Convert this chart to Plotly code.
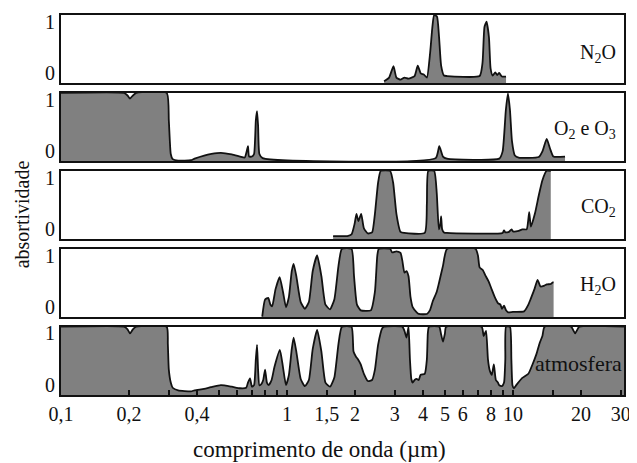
import math
import plotly.graph_objects as go
from plotly.subplots import make_subplots

# ---------------- data (wavelength in micrometres, absorptivity) ----------------
n2o_wl = [2.69, 2.83, 2.96, 3.05, 3.18, 3.31, 3.45, 3.67, 3.79, 3.91, 4.03, 4.16,
          4.30, 4.40, 4.48, 4.61, 4.71, 4.81, 4.95, 5.11, 7.12, 7.33, 7.48, 7.64,
          7.83, 7.96, 8.13, 8.35, 8.52, 8.69, 8.94, 9.32]
n2o_abs = [-0.15, -0.08, 0.14, -0.08, -0.12, -0.08, -0.10, -0.05, 0.15, 0.0, -0.02, -0.08,
           0.40, 0.90, 1.13, 1.10, 0.70, 0.15, -0.04, -0.05, -0.05, 0.20, 0.90, 1.0,
           0.70, 0.10, -0.04, 0.02, -0.03, 0.01, -0.06, -0.06]

o2o3_wl = [0.10, 0.19, 0.197, 0.202, 0.208, 0.215, 0.2935, 0.300, 0.306, 0.312,
           0.33, 0.376, 0.39, 0.43, 0.463, 0.51, 0.57, 0.62, 0.65, 0.665, 0.672,
           0.68, 0.70, 0.715, 0.728, 0.737, 0.745, 0.755, 0.78, 4.55, 4.72, 4.90,
           5.10, 8.70, 9.0, 9.3, 9.5, 9.7, 9.9, 10.2, 10.6, 13.0, 13.5, 14.1, 14.6,
           15.1, 17.0]
o2o3_abs = [1.13, 1.13, 1.08, 1.02, 1.08, 1.13, 1.13, 0.60, -0.05, -0.15,
            -0.18, -0.17, -0.14, -0.08, -0.05, -0.03, -0.06, -0.10, -0.12, 0.02, 0.10,
            -0.10, -0.10, -0.05, 0.60, 0.78, 0.50, -0.05, -0.13, -0.13, 0.10, -0.10,
            -0.14, -0.14, 0.0, 0.80, 1.12, 0.80, 0.20, -0.08, -0.12, -0.11, 0.0, 0.24, 0.05,
            -0.10, -0.10]

co2_wl = [1.60, 1.85, 1.93, 1.99, 2.03, 2.07, 2.13, 2.19, 2.28, 2.38, 2.45, 2.53,
          2.60, 2.86, 2.95, 3.05, 3.18, 3.30, 4.07, 4.16, 4.22, 4.48, 4.60, 4.70,
          4.77, 4.81, 4.86, 4.95, 5.10, 9.0, 9.13, 9.25, 9.6, 9.85, 10.0, 10.6,
          11.0, 11.5, 11.8, 12.0, 12.5, 13.0, 13.5, 14.1, 14.7]
co2_abs = [-0.13, -0.13, -0.10, 0.10, 0.30, 0.16, 0.30, 0.02, -0.08, -0.06, 0.30, 0.90,
           1.13, 1.13, 0.90, 0.30, -0.05, -0.07, -0.07, 0.50, 1.13, 1.13, 0.70, 0.0,
           0.10, 0.25, 0.0, -0.06, -0.07, -0.07, -0.02, -0.06, -0.05, 0.0, -0.04, -0.03,
           0.0, 0.0, 0.33, 0.05, 0.30, 0.65, 0.95, 1.13, 1.13]

h2o_wl = [0.777, 0.80, 0.826, 0.845, 0.86, 0.89, 0.928, 0.96, 0.99, 1.02, 1.05, 1.07,
          1.10, 1.15, 1.20, 1.25, 1.30, 1.36, 1.42, 1.48, 1.55, 1.62, 1.69, 1.75,
          1.93, 1.98, 2.04, 2.12, 2.35, 2.45, 2.51, 2.55, 2.86, 2.92, 3.05, 3.18,
          3.24, 3.31, 3.38, 3.45, 3.52, 3.60, 3.75, 3.83, 4.16, 4.30, 4.42, 4.60,
          4.70, 4.90, 5.11, 6.83, 7.0, 7.12, 7.35, 7.58, 7.80, 8.06, 8.30, 8.58,
          8.80, 8.94, 9.13, 9.32, 9.52, 10.0, 11.2, 11.7, 11.95, 12.45, 12.85, 13.25,
          13.8, 14.1, 14.7, 15.0, 15.13]
h2o_abs = [-0.18, 0.15, 0.18, 0.05, 0.02, 0.35, 0.58, 0.30, 0.0, 0.20, 0.70, 0.84,
           0.60, 0.10, -0.03, 0.10, 0.70, 1.0, 0.60, 0.05, -0.04, 0.15, 0.80, 1.13,
           1.13, 0.60, 0.05, -0.06, -0.06, 0.30, 1.0, 1.13, 1.13, 1.06, 1.08, 1.05,
           0.90, 0.67, 0.70, 0.60, 0.20, 0.0, -0.10, -0.13, -0.13, -0.05, 0.12, 0.30,
           0.46, 0.80, 1.13, 1.13, 1.0, 0.77, 0.72, 0.60, 0.50, 0.34, 0.20, 0.08,
           0.05, -0.03, 0.03, -0.06, -0.10, -0.09, -0.08, 0.05, 0.15, 0.35, 0.53, 0.40,
           0.42, 0.44, 0.45, 0.48, 0.48]

atm_wl = [0.10, 0.19, 0.197, 0.202, 0.208, 0.215, 0.2935, 0.297, 0.300, 0.306, 0.312,
          0.33, 0.376, 0.39, 0.43, 0.46, 0.51, 0.57, 0.62, 0.66, 0.672, 0.686, 0.70,
          0.715, 0.728, 0.737, 0.745, 0.755, 0.77, 0.785, 0.80, 0.815, 0.83, 0.855,
          0.88, 0.93, 0.96, 0.99, 1.02, 1.05, 1.07, 1.10, 1.15, 1.20, 1.25, 1.30,
          1.36, 1.42, 1.48, 1.55, 1.62, 1.69, 1.75, 1.93, 1.97, 2.02, 2.06, 2.12,
          2.19, 2.28, 2.38, 2.45, 2.53, 2.64, 2.69, 3.24, 3.31, 3.38, 3.45, 3.50,
          3.55, 3.60, 3.67, 3.75, 3.83, 3.90, 4.07, 4.16, 4.20, 4.25, 4.72, 4.80,
          4.90, 5.00, 5.06, 7.27, 7.42, 7.60, 7.75, 7.90, 8.06, 8.23, 8.40, 8.58,
          8.69, 8.94, 9.13, 9.25, 9.32, 9.70, 9.84, 9.95, 10.1, 10.34, 11.0, 11.7,
          12.2, 12.7, 13.14, 13.5, 13.8, 18.1, 18.5, 18.85, 19.2, 19.65, 31.0]
atm_abs = [1.13, 1.13, 1.08, 1.0, 1.08, 1.13, 1.13, 0.80, 0.30, 0.05, -0.05,
           -0.10, -0.12, -0.10, -0.07, -0.04, 0.0, -0.03, -0.06, -0.05, 0.05, 0.13, -0.03,
           0.0, 0.50, 0.78, 0.30, 0.0, 0.02, 0.10, 0.30, 0.05, 0.0, 0.10,
           0.35, 0.68, 0.35, 0.0, 0.20, 0.70, 0.92, 0.65, 0.12, -0.02, 0.10, 0.70,
           1.07, 0.65, 0.05, -0.03, 0.15, 0.80, 1.13, 1.13, 0.65, 0.55, 0.50, 0.40,
           0.22, 0.08, 0.10, 0.30, 0.78, 1.10, 1.13, 1.13, 1.05, 0.92, 1.13, 0.50,
           0.12, 0.05, 0.10, 0.12, 0.10, 0.20, 0.22, 0.50, 1.0, 1.13, 1.13, 1.0,
           0.84, 1.0, 1.13, 1.13, 0.95, 1.05, 0.50, 0.28, 0.20, 0.40, 0.10, 0.05,
           0.0, -0.02, 0.05, 0.50, 1.13, 1.13, 0.50, 0.0, -0.06, 0.0, 0.14, 0.22,
           0.40, 0.60, 0.82, 0.95, 1.13, 1.13, 1.06, 1.0, 1.06, 1.13, 1.13]

panel_names = ["N<sub>2</sub>O", "O<sub>2</sub> e O<sub>3</sub>", "CO<sub>2</sub>",
               "H<sub>2</sub>O", "atmosfera"]
panels = [(n2o_wl, n2o_abs), (o2o3_wl, o2o3_abs), (co2_wl, co2_abs),
          (h2o_wl, h2o_abs), (atm_wl, atm_abs)]

tick_vals = [0.1, 0.2, 0.4, 1, 1.5, 2, 3, 4, 5, 6, 8, 10, 20, 30]
tick_text = ["0,1", "0,2", "0,4", "1", "1,5", "2", "3", "4", "5", "6", "8", "10", "20", "30"]
minor_ticks = [0.3, 0.5, 0.6, 0.7, 0.8, 0.9, 7, 9, 15]

y_range = [-0.19, 1.13]
FLOOR = y_range[0]
FILL = "#808080"
FONT = "Liberation Serif, Times New Roman, serif"
INK = "#111111"

fig = make_subplots(rows=5, cols=1, shared_xaxes=True, vertical_spacing=0.0254)

for i, (wl, ab) in enumerate(panels, start=1):
    fig.add_trace(go.Scatter(x=[min(wl), max(wl)], y=[FLOOR, FLOOR], mode="lines",
                             line=dict(width=0, color="rgba(0,0,0,0)"),
                             hoverinfo="skip", showlegend=False), row=i, col=1)
    fig.add_trace(go.Scatter(x=wl, y=ab, mode="lines", fill="tonexty",
                             fillcolor=FILL, line=dict(color=INK, width=1.8),
                             line_shape="spline", line_smoothing=0.5,
                             showlegend=False), row=i, col=1)
    xr = "x domain" if i == 1 else f"x{i} domain"
    yr = "y domain" if i == 1 else f"y{i} domain"
    fig.add_annotation(text=panel_names[i - 1], xref=xr, yref=yr,
                       x=1.0 if i == 5 else 0.99, y=0.44 if i == 1 else 0.46,
                       xanchor="right", yanchor="middle", showarrow=False,
                       font=dict(family=FONT, size=22 if i == 5 else 20, color=INK))

fig.update_yaxes(range=y_range, tickvals=[0, 1], ticktext=["0", "1"],
                 showgrid=False, zeroline=False, showline=True, mirror=True,
                 linecolor=INK, linewidth=2, ticks="",
                 tickfont=dict(family=FONT, size=20, color=INK))

fig.update_xaxes(type="log", range=[-1, math.log10(31)], showgrid=False,
                 zeroline=False, showline=True, mirror=True, linecolor=INK,
                 linewidth=2, ticks="", showticklabels=False)

fig.update_xaxes(row=5, col=1, showticklabels=True, tickmode="array",
                 tickvals=tick_vals, ticktext=tick_text, ticks="inside",
                 ticklen=5, tickwidth=1.5, tickcolor=INK,
                 minor=dict(tickmode="array", tickvals=minor_ticks, ticks="inside",
                            ticklen=5, tickwidth=1.5, tickcolor=INK),
                 tickfont=dict(family=FONT, size=20, color=INK))

fig.add_annotation(text="absortividade", xref="paper", yref="paper",
                   x=-0.0695, y=0.475, textangle=-90, showarrow=False,
                   xanchor="center", yanchor="middle",
                   font=dict(family=FONT, size=20, color=INK))
fig.add_annotation(text="comprimento de onda (µm)", xref="paper", yref="paper",
                   x=0.4600, y=-0.143, showarrow=False,
                   xanchor="center", yanchor="middle",
                   font=dict(family=FONT, size=23, color=INK))

# the page body adds an 8 px margin, so the figure is sized to fit the window
fig.update_layout(width=629, height=455, margin=dict(l=53, r=13, t=3, b=68),
                  paper_bgcolor="white", plot_bgcolor="white",
                  font=dict(family=FONT, color=INK))

fig.write_html("out.html")
